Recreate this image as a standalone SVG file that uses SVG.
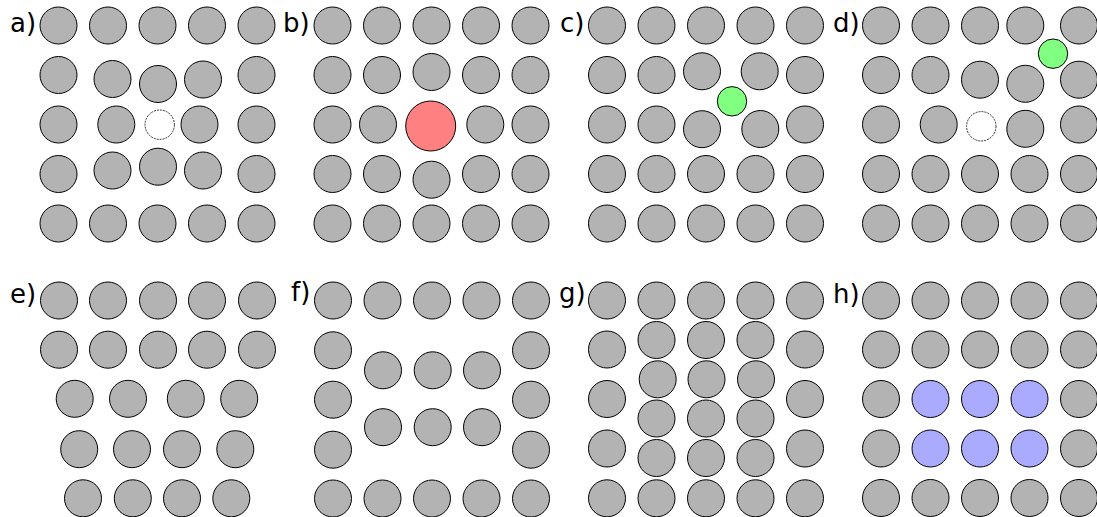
<svg xmlns="http://www.w3.org/2000/svg" width="1097" height="517" viewBox="0 0 1097 517">
<style>
.at{fill:#b3b3b3;stroke:#000;stroke-width:1}
.vac{fill:#fff;stroke:#000;stroke-width:0.8;stroke-dasharray:2,1}
.red{fill:#ff8080;stroke:#000;stroke-width:1}
.grn{fill:#80ff80;stroke:#000;stroke-width:1}
.blu{fill:#aaaaff;stroke:#000;stroke-width:1}
.lbl{font-family:"DejaVu Sans",Verdana,sans-serif;font-size:26px;fill:#000}
</style>
<rect width="1097" height="517" fill="#fff"/>
<g id="panel-a">
<text class="lbl" x="10" y="32">a)</text>
<circle class="at" cx="58.5" cy="25.5" r="18.5"/><circle class="at" cx="108" cy="25.5" r="18.5"/><circle class="at" cx="157.5" cy="25.5" r="18.5"/><circle class="at" cx="207" cy="25.5" r="18.5"/><circle class="at" cx="256.5" cy="25.5" r="18.5"/>
<circle class="at" cx="58.5" cy="75" r="18.5"/><circle class="at" cx="112.5" cy="79" r="18.5"/><circle class="at" cx="158" cy="84" r="18.5"/><circle class="at" cx="203" cy="79.5" r="18.5"/><circle class="at" cx="256.5" cy="75" r="18.5"/>
<circle class="at" cx="58.5" cy="124.5" r="18.5"/><circle class="at" cx="116.3" cy="124.5" r="18.5"/><circle class="vac" cx="159.7" cy="124.7" r="14.7"/><circle class="at" cx="199.5" cy="124.5" r="18.5"/><circle class="at" cx="256.5" cy="124.5" r="18.5"/>
<circle class="at" cx="58.5" cy="174" r="18.5"/><circle class="at" cx="112.5" cy="170.5" r="18.5"/><circle class="at" cx="158" cy="166.7" r="18.5"/><circle class="at" cx="203" cy="170.5" r="18.5"/><circle class="at" cx="256.5" cy="174" r="18.5"/>
<circle class="at" cx="58.5" cy="223.5" r="18.5"/><circle class="at" cx="108" cy="223.5" r="18.5"/><circle class="at" cx="157.5" cy="223.5" r="18.5"/><circle class="at" cx="207" cy="223.5" r="18.5"/><circle class="at" cx="256.5" cy="223.5" r="18.5"/>
</g>
<g id="panel-b">
<text class="lbl" x="283" y="32">b)</text>
<circle class="at" cx="332.5" cy="25.5" r="18.5"/><circle class="at" cx="382" cy="25.5" r="18.5"/><circle class="at" cx="431.5" cy="25.5" r="18.5"/><circle class="at" cx="481" cy="25.5" r="18.5"/><circle class="at" cx="530.5" cy="25.5" r="18.5"/>
<circle class="at" cx="332.5" cy="75" r="18.5"/><circle class="at" cx="382" cy="75" r="18.5"/><circle class="at" cx="431.5" cy="72" r="18.5"/><circle class="at" cx="481" cy="75" r="18.5"/><circle class="at" cx="530.5" cy="75" r="18.5"/>
<circle class="at" cx="332.5" cy="124.5" r="18.5"/><circle class="at" cx="378" cy="124.5" r="18.5"/><circle class="red" cx="430.7" cy="126" r="25"/><circle class="at" cx="485.3" cy="124.5" r="18.5"/><circle class="at" cx="530.5" cy="124.5" r="18.5"/>
<circle class="at" cx="332.5" cy="174" r="18.5"/><circle class="at" cx="382" cy="174" r="18.5"/><circle class="at" cx="431.5" cy="179.7" r="18.5"/><circle class="at" cx="481" cy="174" r="18.5"/><circle class="at" cx="530.5" cy="174" r="18.5"/>
<circle class="at" cx="332.5" cy="223.5" r="18.5"/><circle class="at" cx="382" cy="223.5" r="18.5"/><circle class="at" cx="431.5" cy="223.5" r="18.5"/><circle class="at" cx="481" cy="223.5" r="18.5"/><circle class="at" cx="530.5" cy="223.5" r="18.5"/>
</g>
<g id="panel-c">
<text class="lbl" x="560" y="32">c)</text>
<circle class="at" cx="607" cy="25.5" r="18.5"/><circle class="at" cx="656.5" cy="25.5" r="18.5"/><circle class="at" cx="706" cy="25.5" r="18.5"/><circle class="at" cx="755.5" cy="25.5" r="18.5"/><circle class="at" cx="805" cy="25.5" r="18.5"/>
<circle class="at" cx="607" cy="75" r="18.5"/><circle class="at" cx="656.5" cy="75" r="18.5"/><circle class="at" cx="702" cy="71.3" r="18.5"/><circle class="at" cx="759.7" cy="71.3" r="18.5"/><circle class="at" cx="805" cy="75" r="18.5"/>
<circle class="grn" cx="732" cy="101.3" r="14.7"/>
<circle class="at" cx="607" cy="124.5" r="18.5"/><circle class="at" cx="656.5" cy="124.5" r="18.5"/><circle class="at" cx="702" cy="129.2" r="18.5"/><circle class="at" cx="760.3" cy="129" r="18.5"/><circle class="at" cx="805" cy="124.5" r="18.5"/>
<circle class="at" cx="607" cy="174" r="18.5"/><circle class="at" cx="656.5" cy="174" r="18.5"/><circle class="at" cx="706" cy="174" r="18.5"/><circle class="at" cx="755.5" cy="174" r="18.5"/><circle class="at" cx="805" cy="174" r="18.5"/>
<circle class="at" cx="607" cy="223.5" r="18.5"/><circle class="at" cx="656.5" cy="223.5" r="18.5"/><circle class="at" cx="706" cy="223.5" r="18.5"/><circle class="at" cx="755.5" cy="223.5" r="18.5"/><circle class="at" cx="805" cy="223.5" r="18.5"/>
</g>
<g id="panel-d">
<text class="lbl" x="833" y="32">d)</text>
<circle class="at" cx="881" cy="25.5" r="18.5"/><circle class="at" cx="930.5" cy="25.5" r="18.5"/><circle class="at" cx="980" cy="25.5" r="18.5"/><circle class="at" cx="1025.3" cy="25.5" r="18.5"/><circle class="at" cx="1079" cy="25.5" r="18.5"/>
<circle class="grn" cx="1053" cy="53.7" r="14.7"/>
<circle class="at" cx="881" cy="75" r="18.5"/><circle class="at" cx="930.5" cy="75" r="18.5"/><circle class="at" cx="980" cy="79.7" r="18.5"/><circle class="at" cx="1025.3" cy="83.8" r="18.5"/><circle class="at" cx="1079" cy="79.7" r="18.5"/>
<circle class="at" cx="881" cy="124.5" r="18.5"/><circle class="at" cx="938.7" cy="124.5" r="18.5"/><circle class="vac" cx="981.3" cy="126.3" r="14.7"/><circle class="at" cx="1025.3" cy="128.8" r="18.5"/><circle class="at" cx="1079" cy="124.5" r="18.5"/>
<circle class="at" cx="881" cy="174" r="18.5"/><circle class="at" cx="930.5" cy="174" r="18.5"/><circle class="at" cx="980" cy="174" r="18.5"/><circle class="at" cx="1029.5" cy="174" r="18.5"/><circle class="at" cx="1079" cy="174" r="18.5"/>
<circle class="at" cx="881" cy="223.5" r="18.5"/><circle class="at" cx="930.5" cy="223.5" r="18.5"/><circle class="at" cx="980" cy="223.5" r="18.5"/><circle class="at" cx="1029.5" cy="223.5" r="18.5"/><circle class="at" cx="1079" cy="223.5" r="18.5"/>
</g>
<g id="panel-e">
<text class="lbl" x="10" y="303">e)</text>
<circle class="at" cx="59" cy="300.5" r="18.5"/><circle class="at" cx="108" cy="300.5" r="18.5"/><circle class="at" cx="158" cy="300.5" r="18.5"/><circle class="at" cx="207" cy="300.5" r="18.5"/><circle class="at" cx="257" cy="300.5" r="18.5"/>
<circle class="at" cx="59" cy="349.7" r="18.5"/><circle class="at" cx="108" cy="349.7" r="18.5"/><circle class="at" cx="158" cy="349.7" r="18.5"/><circle class="at" cx="207" cy="349.7" r="18.5"/><circle class="at" cx="257" cy="349.7" r="18.5"/>
<circle class="at" cx="74.7" cy="398.8" r="18.5"/><circle class="at" cx="128" cy="398.8" r="18.5"/><circle class="at" cx="185.8" cy="398.8" r="18.5"/><circle class="at" cx="239.2" cy="398.8" r="18.5"/>
<circle class="at" cx="79.2" cy="449.2" r="18.5"/><circle class="at" cx="132" cy="449.2" r="18.5"/><circle class="at" cx="182" cy="449.2" r="18.5"/><circle class="at" cx="235.3" cy="449.2" r="18.5"/>
<circle class="at" cx="83" cy="498.3" r="18.5"/><circle class="at" cx="132.8" cy="498.3" r="18.5"/><circle class="at" cx="182" cy="498.3" r="18.5"/><circle class="at" cx="231.3" cy="498.3" r="18.5"/>
</g>
<g id="panel-f">
<text class="lbl" x="291" y="301">f)</text>
<circle class="at" cx="333" cy="300.5" r="18.5"/><circle class="at" cx="382.5" cy="300.5" r="18.5"/><circle class="at" cx="432" cy="300.5" r="18.5"/><circle class="at" cx="481.5" cy="300.5" r="18.5"/><circle class="at" cx="531" cy="300.5" r="18.5"/>
<circle class="at" cx="333" cy="350.3" r="18.5"/><circle class="at" cx="531" cy="350.3" r="18.5"/>
<circle class="at" cx="383" cy="370.3" r="18.5"/><circle class="at" cx="432.7" cy="370.3" r="18.5"/><circle class="at" cx="482" cy="370.3" r="18.5"/>
<circle class="at" cx="333" cy="399.7" r="18.5"/><circle class="at" cx="531" cy="399.7" r="18.5"/>
<circle class="at" cx="383" cy="427.2" r="18.5"/><circle class="at" cx="432.7" cy="427.2" r="18.5"/><circle class="at" cx="482" cy="427.2" r="18.5"/>
<circle class="at" cx="333" cy="449.7" r="18.5"/><circle class="at" cx="531" cy="449.7" r="18.5"/>
<circle class="at" cx="333" cy="498.5" r="18.5"/><circle class="at" cx="382.5" cy="498.5" r="18.5"/><circle class="at" cx="432" cy="498.5" r="18.5"/><circle class="at" cx="481.5" cy="498.5" r="18.5"/><circle class="at" cx="531" cy="498.5" r="18.5"/>
</g>
<g id="panel-g">
<text class="lbl" x="559" y="302">g)</text>
<circle class="at" cx="607" cy="300.5" r="18.5"/><circle class="at" cx="607" cy="349.5" r="18.5"/><circle class="at" cx="607" cy="399" r="18.5"/><circle class="at" cx="607" cy="448.5" r="18.5"/><circle class="at" cx="607" cy="498.3" r="18.5"/>
<circle class="at" cx="805" cy="300.5" r="18.5"/><circle class="at" cx="805" cy="349.5" r="18.5"/><circle class="at" cx="805" cy="399" r="18.5"/><circle class="at" cx="805" cy="448.5" r="18.5"/><circle class="at" cx="805" cy="498.3" r="18.5"/>
<circle class="at" cx="656.5" cy="300.5" r="18.5"/><circle class="at" cx="706" cy="300.5" r="18.5"/><circle class="at" cx="755.5" cy="300.5" r="18.5"/>
<circle class="at" cx="656.5" cy="340" r="18.5"/><circle class="at" cx="706" cy="340" r="18.5"/><circle class="at" cx="755.5" cy="340" r="18.5"/>
<circle class="at" cx="657.7" cy="379.3" r="18.5"/><circle class="at" cx="706.5" cy="379.3" r="18.5"/><circle class="at" cx="756" cy="379.3" r="18.5"/>
<circle class="at" cx="656.5" cy="418.5" r="18.5"/><circle class="at" cx="706" cy="418.5" r="18.5"/><circle class="at" cx="755.5" cy="418.5" r="18.5"/>
<circle class="at" cx="656.5" cy="458" r="18.5"/><circle class="at" cx="706" cy="458" r="18.5"/><circle class="at" cx="755.5" cy="458" r="18.5"/>
<circle class="at" cx="656.5" cy="498.3" r="18.5"/><circle class="at" cx="706" cy="498.3" r="18.5"/><circle class="at" cx="755.5" cy="498.3" r="18.5"/>
</g>
<g id="panel-h">
<text class="lbl" x="833" y="303">h)</text>
<circle class="at" cx="881" cy="300.5" r="18.5"/><circle class="at" cx="930.5" cy="300.5" r="18.5"/><circle class="at" cx="980" cy="300.5" r="18.5"/><circle class="at" cx="1029.5" cy="300.5" r="18.5"/><circle class="at" cx="1079" cy="300.5" r="18.5"/>
<circle class="at" cx="881" cy="349.5" r="18.5"/><circle class="at" cx="930.5" cy="349.5" r="18.5"/><circle class="at" cx="980" cy="349.5" r="18.5"/><circle class="at" cx="1029.5" cy="349.5" r="18.5"/><circle class="at" cx="1079" cy="349.5" r="18.5"/>
<circle class="at" cx="881" cy="399" r="18.5"/><circle class="blu" cx="930.5" cy="399" r="18.5"/><circle class="blu" cx="980" cy="399" r="18.5"/><circle class="blu" cx="1029.5" cy="399" r="18.5"/><circle class="at" cx="1079" cy="399" r="18.5"/>
<circle class="at" cx="881" cy="448.5" r="18.5"/><circle class="blu" cx="930.5" cy="448.5" r="18.5"/><circle class="blu" cx="980" cy="448.5" r="18.5"/><circle class="blu" cx="1029.5" cy="448.5" r="18.5"/><circle class="at" cx="1079" cy="448.5" r="18.5"/>
<circle class="at" cx="881" cy="498" r="18.5"/><circle class="at" cx="930.5" cy="498" r="18.5"/><circle class="at" cx="980" cy="498" r="18.5"/><circle class="at" cx="1029.5" cy="498" r="18.5"/><circle class="at" cx="1079" cy="498" r="18.5"/>
</g>
</svg>
